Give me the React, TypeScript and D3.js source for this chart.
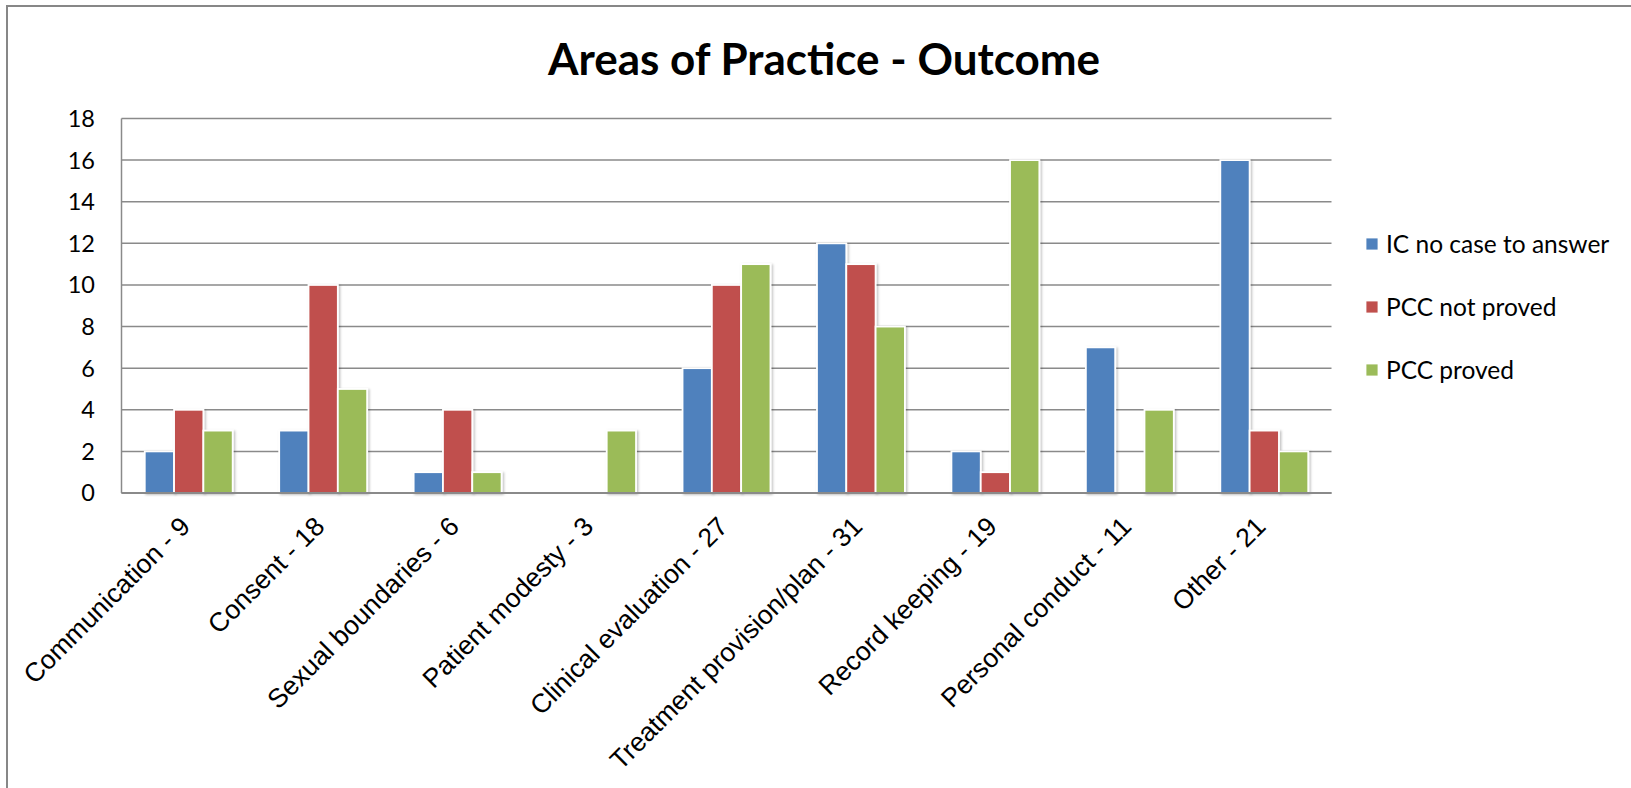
import React from "react";
import * as d3 from "d3";

// Areas of practice, with the total number of cases in each label
const categories = [
  "Communication - 9",
  "Consent - 18",
  "Sexual boundaries - 6",
  "Patient modesty - 3",
  "Clinical evaluation - 27",
  "Treatment provision/plan - 31",
  "Record keeping - 19",
  "Personal conduct - 11",
  "Other - 21",
];

const seriesNames = ["IC no case to answer", "PCC not proved", "PCC proved"];
const icNoCase = [2, 3, 1, 0, 6, 12, 2, 7, 16];
const pccNotProved = [4, 10, 4, 0, 10, 11, 1, 0, 3];
const pccProved = [3, 5, 1, 3, 11, 8, 16, 4, 2];
const yTicks = [0, 2, 4, 6, 8, 10, 12, 14, 16, 18];

const seriesValues = [icNoCase, pccNotProved, pccProved];
const colors = ["#4F81BD", "#C0504D", "#9BBB59"];

const W = 1631;
const H = 788;
const plot = { left: 121.5, right: 1331.5, top: 118.5, bottom: 493 };

const calibriLike = "Lato, 'Noto Sans', sans-serif";
const arialLike = "'Liberation Sans', Arial, sans-serif";

export default function App() {
  const x0 = d3
    .scaleBand<string>()
    .domain(categories)
    .range([plot.left, plot.right])
    .paddingInner(0.346)
    .paddingOuter(0.173);
  const x1 = d3
    .scaleBand<string>()
    .domain(seriesNames)
    .range([0, x0.bandwidth()])
    .padding(0);
  const y = d3.scaleLinear().domain([0, 18]).range([plot.bottom, plot.top]);

  const catCenter = (c: string) => {
    const step = x0.step();
    const i = categories.indexOf(c);
    return plot.left + step * (i + 0.5);
  };

  return (
    <svg
      width={W}
      height={H}
      style={{ position: "absolute", left: 0, top: 0, background: "#fff" }}
    >
      <defs>
        <filter id="barShadow" x="-20%" y="-20%" width="150%" height="150%">
          <feDropShadow dx="1.5" dy="1" stdDeviation="1.2" floodColor="#000" floodOpacity="0.25" />
        </filter>
      </defs>
      <rect x={0} y={0} width={W} height={H} fill="#fff" />

      {/* chart frame (only the top and left edges fall inside the view) */}
      <path d={`M7,${H} L7,6 L${W},6`} fill="none" stroke="#878787" strokeWidth={2} />

      {/* title */}
      <text
        x={824}
        y={75}
        textAnchor="middle"
        fontFamily={calibriLike}
        fontWeight={700}
        fontSize={44}
        fill="#000"
      >
        Areas of Practice - Outcome
      </text>

      {/* horizontal gridlines */}
      {yTicks.map((t) => (
        <line
          key={`g${t}`}
          x1={plot.left}
          x2={plot.right}
          y1={y(t)}
          y2={y(t)}
          stroke="#8a8a8a"
          strokeWidth={1.5}
        />
      ))}
      {/* value axis line */}
      <line
        x1={plot.left}
        x2={plot.left}
        y1={plot.top}
        y2={plot.bottom}
        stroke="#8a8a8a"
        strokeWidth={1.5}
      />

      {/* y tick labels */}
      {yTicks.map((t) => (
        <text
          key={`yl${t}`}
          x={95}
          y={y(t)}
          dy="0.36em"
          textAnchor="end"
          fontFamily={calibriLike}
          fontSize={23.5}
          fill="#000"
        >
          {t}
        </text>
      ))}

      {/* bars */}
      {categories.map((c, i) => (
        <g key={c} transform={`translate(${x0(c)},0)`}>
          {seriesNames.map((s, k) => {
            const v = seriesValues[k][i];
            if (!v) return null;
            return (
              <rect
                key={s}
                x={x1(s)!}
                y={y(v)}
                width={x1.bandwidth()}
                height={y(0) - y(v)}
                fill={colors[k]}
                stroke="#fff"
                strokeWidth={1.8}
                filter="url(#barShadow)"
              />
            );
          })}
        </g>
      ))}

      {/* category axis line */}
      <line
        x1={plot.left}
        x2={plot.right}
        y1={plot.bottom}
        y2={plot.bottom}
        stroke="#8a8a8a"
        strokeWidth={1.8}
      />

      {/* rotated category labels */}
      {categories.map((c) => {
        const ax = catCenter(c) + 3;
        const ay = 528;
        return (
          <text
            key={`xl${c}`}
            x={ax}
            y={ay}
            transform={`rotate(-45 ${ax} ${ay})`}
            textAnchor="end"
            fontFamily={arialLike}
            fontSize={26.5}
            fill="#000"
          >
            {c}
          </text>
        );
      })}

      {/* legend */}
      {seriesNames.map((s, k) => {
        const cy = 244 + k * 63;
        return (
          <g key={`lg${s}`}>
            <rect
              x={1366}
              y={cy - 6}
              width={12}
              height={12}
              fill={colors[k]}
              stroke="#fff"
              strokeWidth={0.8}
            />
            <text
              x={1386}
              y={cy}
              dy="0.36em"
              fontFamily={calibriLike}
              fontSize={24.5}
              fill="#000"
            >
              {s}
            </text>
          </g>
        );
      })}
    </svg>
  );
}
